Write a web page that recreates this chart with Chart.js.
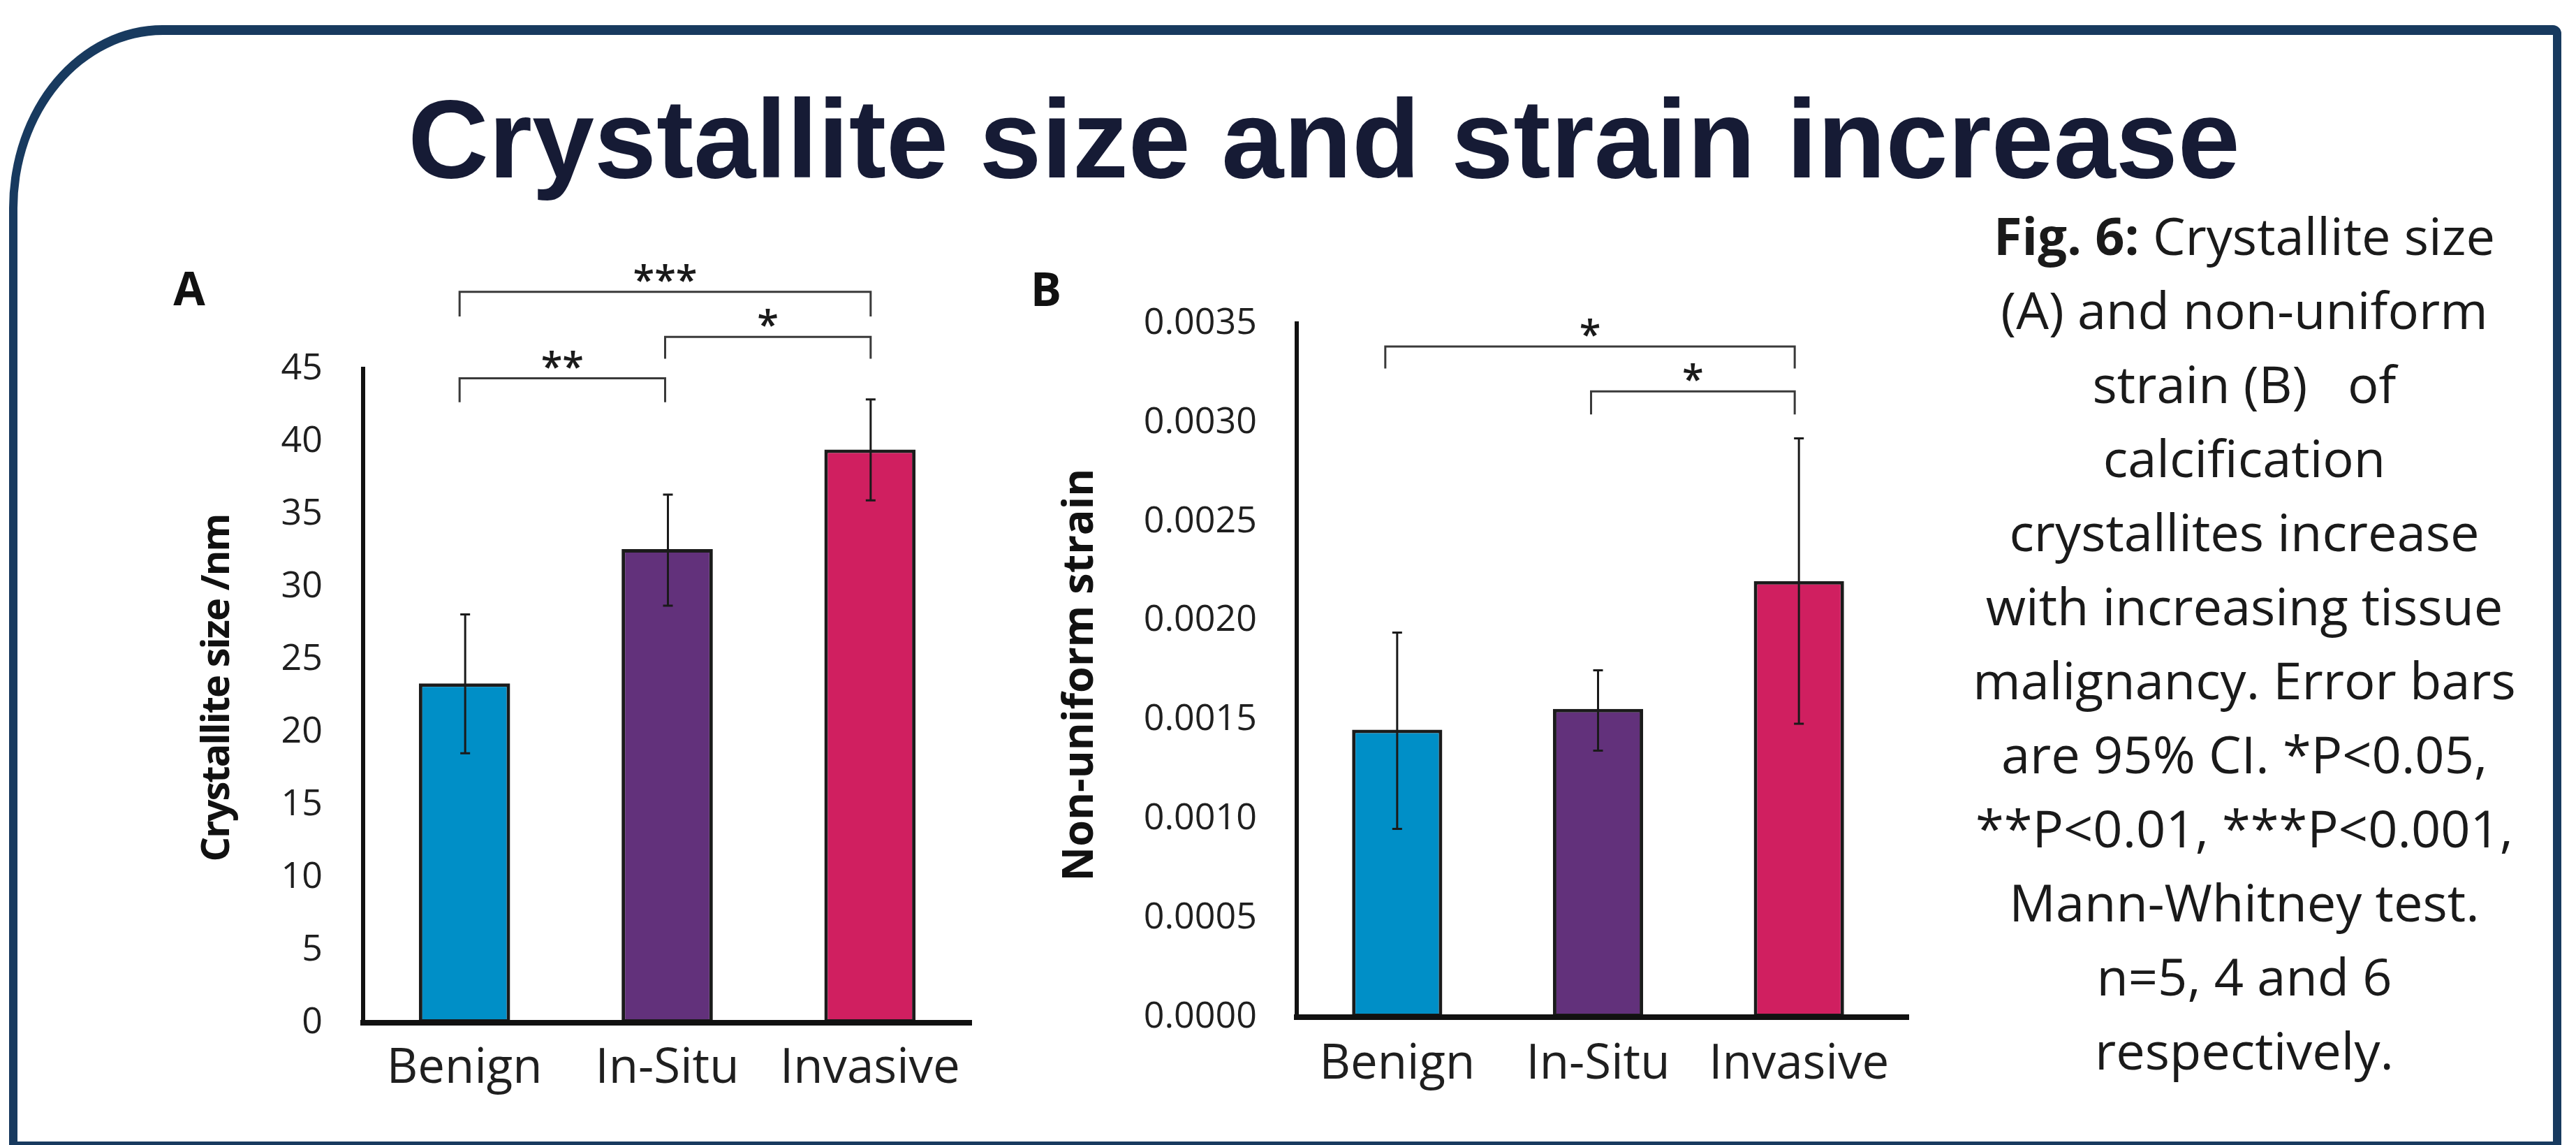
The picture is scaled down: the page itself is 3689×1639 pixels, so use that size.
<!DOCTYPE html>
<html>
<head>
<meta charset="utf-8">
<script src="https://cdn.jsdelivr.net/npm/chart.js@4.4.1/dist/chart.umd.min.js"></script>
<style>
html,body{margin:0;padding:0;background:#fff;}
body{width:3689px;height:1639px;position:relative;overflow:hidden;}
#frame{position:absolute;left:13px;top:36px;width:3655px;height:1603px;box-sizing:border-box;
  border-style:solid;border-color:#183a5f;border-width:14px 12px 5px 12px;
  border-top-left-radius:220px 262px;border-top-right-radius:12px;}
#title{position:absolute;left:0;width:3792px;top:119px;text-align:center;white-space:nowrap;
  font:bold 160px/160px "Liberation Sans",Arial,sans-serif;color:#161b35;}
.panel{position:absolute;width:100px;text-align:center;font:bold 66px/66px "Open Sans",sans-serif;color:#111;}
#caption{position:absolute;left:2714px;width:1000px;top:284px;text-align:center;white-space:pre;
  font:74px/106px "Open Sans",sans-serif;color:#1a1a1a;}
#caption b{font-weight:bold;}
canvas{position:absolute;top:0;}
#cA{left:0;}
#cB{left:1420px;}
</style>
</head>
<body>
<div id="frame"></div>
<div id="title">Crystallite size and strain increase</div>
<div class="panel" style="left:221px;top:378px;">A</div>
<div class="panel" style="left:1448px;top:379px;">B</div>
<canvas id="cA" width="1420" height="1639"></canvas>
<canvas id="cB" width="1340" height="1639"></canvas>
<div id="caption"><b>Fig. 6:</b> Crystallite size
(A) and non-uniform
strain (B)   of
calcification
crystallites increase
with increasing tissue
malignancy. Error bars
are 95% CI. *P&lt;0.05,
**P&lt;0.01, ***P&lt;0.001,
Mann-Whitney test.
n=5, 4 and 6
respectively.</div>
<script>
// ---- data ----
const categories = ['Benign', 'In-Situ', 'Invasive'];
const barColors = ['#008fc7', '#62317b', '#d01f60'];

const sizeMean = [23.35, 32.6, 39.45];
const sizeLow  = [18.55, 28.7, 35.95];
const sizeHigh = [28.1, 36.35, 42.9];
const sizeAxisTitle = 'Crystallite size /nm';
const sizeMax = 45;
const sizeStep = 5;
const sizeBrackets = [
  {from: 0, to: 2, top: 50.3, foot: 48.6, label: '***'},
  {from: 1, to: 2, top: 47.2, foot: 45.7, label: '*'},
  {from: 0, to: 1, top: 44.35, foot: 42.7, label: '**'}
];

const strainMean = [0.00145, 0.001555, 0.0022];
const strainLow  = [0.00095, 0.001345, 0.00148];
const strainHigh = [0.00194, 0.00175, 0.00292];
const strainAxisTitle = 'Non-uniform strain';
const strainMax = 0.0035;
const strainStep = 0.0005;
const strainBrackets = [
  {from: 0, to: 2, top: 0.003384, foot: 0.003273, label: '*'},
  {from: 1, to: 2, top: 0.003157, foot: 0.003041, label: '*'}
];

function makePlugins(cfg) {
  return [{
    id: 'errorBars',
    afterDatasetsDraw(chart) {
      const ctx = chart.ctx, y = chart.scales.y, meta = chart.getDatasetMeta(0);
      ctx.save();
      ctx.strokeStyle = '#1a1a1a';
      ctx.lineWidth = 3;
      meta.data.forEach((bar, i) => {
        const x = bar.x + (cfg.errDx || 0);
        const yl = y.getPixelForValue(cfg.low[i]);
        const yh = y.getPixelForValue(cfg.high[i]);
        ctx.beginPath();
        ctx.moveTo(x, yl); ctx.lineTo(x, yh);
        ctx.moveTo(x - 7, yl); ctx.lineTo(x + 7, yl);
        ctx.moveTo(x - 7, yh); ctx.lineTo(x + 7, yh);
        ctx.stroke();
      });
      ctx.restore();
    }
  }, {
    id: 'axisExtend',
    afterDraw(chart) {
      if (!cfg.axisExtra) return;
      const ctx = chart.ctx, a = chart.chartArea;
      ctx.save();
      ctx.fillStyle = '#111';
      ctx.fillRect(a.right, a.bottom - 4, cfg.axisExtra, 8);
      ctx.restore();
    }
  }, {
    id: 'brackets',
    afterDraw(chart) {
      const ctx = chart.ctx, xs = chart.scales.x, ys = chart.scales.y;
      ctx.save();
      ctx.strokeStyle = '#3a3a3a';
      ctx.lineWidth = 3;
      ctx.fillStyle = '#1a1a1a';
      ctx.font = '600 56px "Open Sans"';
      ctx.textAlign = 'center';
      ctx.textBaseline = 'alphabetic';
      cfg.brackets.forEach(b => {
        const x1 = xs.getPixelForValue(b.from) + cfg.bdx[b.from];
        const x2 = xs.getPixelForValue(b.to) + cfg.bdx[b.to];
        const yt = ys.getPixelForValue(b.top);
        const yf = ys.getPixelForValue(b.foot);
        ctx.beginPath();
        ctx.moveTo(x1, yf); ctx.lineTo(x1, yt); ctx.lineTo(x2, yt); ctx.lineTo(x2, yf);
        ctx.stroke();
        ctx.fillText(b.label, (x1 + x2) / 2, yt + cfg.starDy);
      });
      ctx.restore();
    }
  }, {
    id: 'yTitle',
    afterDraw(chart) {
      const ctx = chart.ctx;
      ctx.save();
      ctx.translate(cfg.titleX, cfg.titleY);
      ctx.rotate(-Math.PI / 2);
      ctx.font = 'bold ' + cfg.titleSize + 'px "Open Sans"';
      if ('letterSpacing' in ctx) ctx.letterSpacing = cfg.titleSpacing + 'px';
      ctx.fillStyle = '#111';
      ctx.textAlign = 'center';
      ctx.textBaseline = 'middle';
      ctx.fillText(cfg.title, 0, 0);
      ctx.restore();
    }
  }];
}

function makeChart(id, cfg) {
  return new Chart(document.getElementById(id), {
    type: 'bar',
    data: {
      labels: categories,
      datasets: [{
        data: cfg.mean,
        backgroundColor: barColors,
        borderColor: '#1b1b1b',
        borderWidth: 5,
        borderSkipped: false,
        barPercentage: cfg.barPct,
        categoryPercentage: 1
      }]
    },
    options: {
      responsive: false,
      animation: false,
      devicePixelRatio: 1,
      layout: {padding: {top: cfg.padTop, left: 0, right: cfg.padRight, bottom: 0}},
      plugins: {legend: {display: false}, tooltip: {enabled: false}, title: {display: false}},
      scales: {
        x: {
          grid: {display: false, drawTicks: false},
          border: {color: '#111', width: 8, z: 1},
          ticks: {color: '#1f1f1f', font: {family: 'Open Sans', size: 69}, padding: cfg.xPad, maxRotation: 0, autoSkip: false},
          afterFit(s) { s.height = cfg.xH; }
        },
        y: {
          min: 0, max: cfg.max,
          grid: {display: false, drawTicks: false},
          border: {color: '#111', width: 6, z: 1},
          ticks: {stepSize: cfg.step, color: '#1f1f1f', font: {family: 'Open Sans', size: 52}, padding: cfg.yPad, autoSkip: false, callback: cfg.fmt},
          afterFit(s) { s.width = cfg.yW; }
        }
      }
    },
    plugins: makePlugins(cfg)
  });
}

function draw() {
  makeChart('cA', {
    mean: sizeMean, low: sizeLow, high: sizeHigh, brackets: sizeBrackets,
    max: sizeMax, step: sizeStep, fmt: v => String(v),
    title: sizeAxisTitle, titleX: 312, titleY: 985, titleSize: 56, titleSpacing: -2,
    barPct: 0.45, padTop: 528, padRight: 29, xH: 175, yW: 520, xPad: 25, yPad: 58,
    bdx: [-7, -3, 1], starDy: 2, errDx: 1, axisExtra: 0
  });
  makeChart('cB', {
    mean: strainMean, low: strainLow, high: strainHigh, brackets: strainBrackets,
    max: strainMax, step: strainStep, fmt: v => Number(v).toFixed(4),
    title: strainAxisTitle, titleX: 128, titleY: 966, titleSize: 61, titleSpacing: 0,
    barPct: 0.449, padTop: 463, padRight: 40, xH: 183, yW: 437, xPad: 27, yPad: 57,
    bdx: [-17, -10, -6], starDy: 2, errDx: 0, axisExtra: 14
  });
}

let drawn = false;
function go() { if (!drawn) { drawn = true; draw(); } }
if (document.fonts && document.fonts.load) {
  Promise.all([
    document.fonts.load('52px "Open Sans"'),
    document.fonts.load('bold 56px "Open Sans"'),
    document.fonts.load('600 56px "Open Sans"')
  ]).then(go, go);
  setTimeout(go, 1500);
} else {
  go();
}
</script>
</body>
</html>
